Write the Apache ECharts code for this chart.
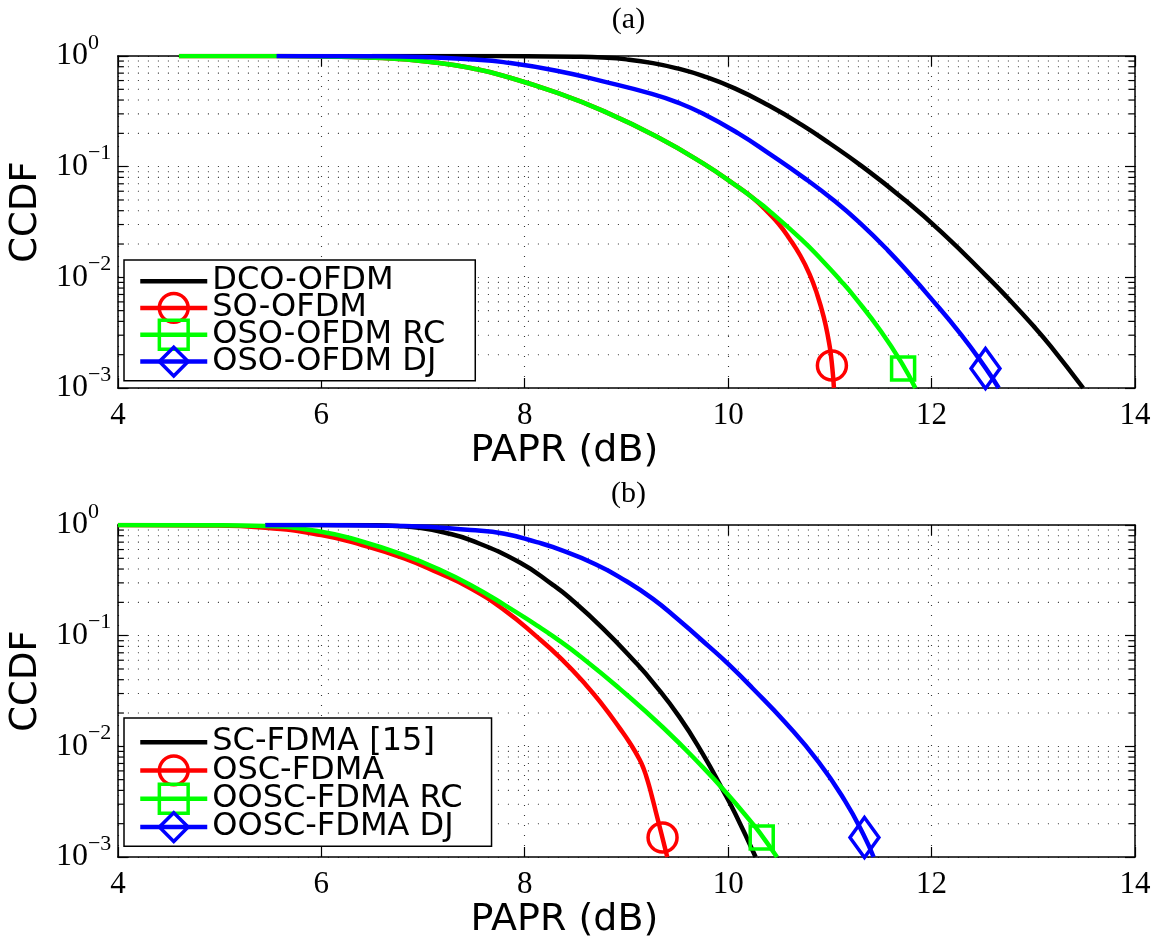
<!DOCTYPE html>
<html><head><meta charset="utf-8">
<script src="https://cdn.jsdelivr.net/npm/echarts@6/dist/echarts.min.js"></script>
<style>html,body{margin:0;padding:0;background:#fff}#c{width:1161px;height:941px}</style>
</head><body><div id="c"></div>
<script>
// ---------- data (a) ----------
const namesA = ['DCO-OFDM', 'SO-OFDM', 'OSO-OFDM RC', 'OSO-OFDM DJ'];
const dcoX = [6.5, 7.5, 8.0, 8.5, 8.77, 9.0, 9.26, 9.5, 9.75, 10.07, 10.4, 10.72, 11.0, 11.31, 11.7, 12.1, 12.55, 12.74, 13.0, 13.17, 13.49];
const dcoY = [1, 0.999, 0.997, 0.9855, 0.9674, 0.932, 0.862, 0.772, 0.661, 0.507, 0.357, 0.24, 0.162, 0.1016, 0.0533, 0.0255, 0.01005, 0.00664, 0.00365, 0.00239, 0.001];
const soX = [4.6, 5.5, 6.0, 6.6, 7.14, 7.5, 7.78, 8.3, 8.77, 9.3, 9.75, 10.1, 10.25, 10.4, 10.5, 10.6, 10.71, 10.8, 10.87, 10.94, 10.99, 11.01, 11.03, 11.04];
const soY = [1, 0.998, 0.99, 0.96, 0.87, 0.768, 0.667, 0.471, 0.319, 0.1866, 0.1076, 0.0653, 0.0516, 0.038, 0.0302, 0.0226, 0.01567, 0.0107, 0.00724, 0.00437, 0.00263, 0.002, 0.00132, 0.001];
const osoRcX = [4.6, 5.5, 6.0, 6.6, 7.14, 7.5, 7.78, 8.3, 8.77, 9.3, 9.75, 10.1, 10.25, 10.4, 10.72, 10.92, 11.1, 11.25, 11.5, 11.71, 11.84];
const osoRcY = [1, 0.998, 0.99, 0.96, 0.87, 0.768, 0.667, 0.471, 0.319, 0.1866, 0.1076, 0.0653, 0.0516, 0.0403, 0.022, 0.01435, 0.00948, 0.00653, 0.00327, 0.00166, 0.001];
const osoDjX = [5.56, 6.5, 7.0, 7.5, 7.79, 8.3, 8.77, 9.25, 9.5, 9.75, 10.1, 10.4, 10.75, 11.05, 11.3, 11.57, 11.8, 11.96, 12.29, 12.53, 12.66];
const osoDjY = [1, 0.997, 0.98, 0.93, 0.88, 0.74, 0.59, 0.455, 0.381, 0.302, 0.2, 0.132, 0.0789, 0.0486, 0.0307, 0.01754, 0.01033, 0.00702, 0.00304, 0.00152, 0.001];
const markA = [[11.02, 0.0016], [11.72, 0.0015], [12.53, 0.0015]];

// ---------- data (b) ----------
const namesB = ['SC-FDMA [15]', 'OSC-FDMA', 'OOSC-FDMA RC', 'OOSC-FDMA DJ'];
const scX = [5.45, 6.0, 6.5, 6.75, 6.98, 7.2, 7.467, 7.956, 8.28, 8.44, 8.77, 9.1, 9.26, 9.52, 9.75, 9.94, 10.07, 10.27];
const scY = [1, 0.999, 0.995, 0.98, 0.94, 0.86, 0.73, 0.455, 0.286, 0.22, 0.116, 0.056, 0.0379, 0.01845, 0.00855, 0.00415, 0.00246, 0.001];
const oscX = [4.0, 4.86, 5.45, 6.0, 6.4, 6.815, 7.15, 7.467, 7.8, 8.118, 8.36, 8.604, 8.77, 8.933, 9.034, 9.129, 9.171, 9.21, 9.249, 9.288, 9.342, 9.401];
const oscY = [1, 0.99, 0.946, 0.81, 0.66, 0.5, 0.37, 0.268, 0.17, 0.098, 0.0617, 0.0357, 0.0233, 0.01462, 0.01072, 0.0076, 0.0062, 0.00482, 0.00357, 0.00258, 0.00165, 0.001];
const ooscRcX = [4.0, 4.86, 5.45, 6.0, 6.4, 6.815, 7.15, 7.467, 7.8, 8.118, 8.28, 8.57, 8.93, 9.36, 9.75, 9.98, 10.24, 10.31, 10.48];
const ooscRcY = [1, 0.995, 0.98, 0.87, 0.71, 0.535, 0.40, 0.287, 0.19, 0.124, 0.0986, 0.0626, 0.0334, 0.0148, 0.00648, 0.00382, 0.0020, 0.00166, 0.001];
const ooscDjX = [5.45, 6.0, 6.815, 7.467, 7.8, 8.118, 8.28, 8.70, 9.0, 9.26, 9.5, 9.81, 10.0, 10.24, 10.56, 10.89, 11.15, 11.33, 11.43];
const ooscDjY = [1, 0.998, 0.98, 0.90, 0.834, 0.70, 0.63, 0.44, 0.31, 0.215, 0.142, 0.08, 0.0555, 0.0335, 0.0165, 0.0072, 0.0032, 0.0016, 0.001];
const markB = [[9.355, 0.0015], [10.33, 0.0015], [11.34, 0.0015]];

// ---------- axes ----------
const xMin = 4, xMax = 14, xStep = 2;
const yMinorTicks = [0.002,0.003,0.004,0.005,0.006,0.007,0.008,0.009,
                     0.02,0.03,0.04,0.05,0.06,0.07,0.08,0.09,
                     0.2,0.3,0.4,0.5,0.6,0.7,0.8,0.9];
const titles = ['(a)', '(b)'];
const xName = 'PAPR (dB)';
const yName = 'CCDF';

const colors = ['#000000', '#ff0000', '#00ff00', '#0000ff'];
const symbols = ['none', 'circle', 'rect', 'diamond'];
const symSizes = [0, 29, 23, [29, 40]];

const grids = [{left:112, top:56, width:1023, height:332}, {left:112, top:525, width:1023, height:332}];

const dotted = {color:'#333', width:1.1, type:[1,9]};

function xAx(gi, pos) {
  const bottom = pos === 'bottom';
  return {
    type:'value', gridIndex:gi, position:pos, min:xMin, max:xMax, interval:xStep,
    axisLine:{show:true, onZero:false, lineStyle:{color:'#000', width:1.5}},
    axisTick:{show:true, inside:true, length:10, lineStyle:{color:'#000', width:1.2}},
    axisLabel:{show:bottom, margin:12, color:'#000', fontFamily:'Liberation Serif', fontSize:31},
    splitLine:{show:bottom, lineStyle:dotted},
    name: bottom ? xName : '', nameLocation:'middle', nameGap:44,
    nameTextStyle:{fontFamily:'DejaVu Sans', fontSize:38, color:'#000', padding:[0,124,0,0]}
  };
}
function yAx(gi, pos) {
  const left = pos === 'left';
  return {
    type:'log', logBase:10, gridIndex:gi, position:pos, min:0.001, max:1,
    axisLine:{show:true, onZero:false, lineStyle:{color:'#000', width:1.5}},
    axisTick:{show:true, inside:true, length:10, lineStyle:{color:'#000', width:1.2}},
    axisLabel:{
      show:left, margin:62, align:'left', color:'#000',
      formatter: v => { const e = Math.round(Math.log10(v)); return '{b|10}{s|' + (e === 0 ? '0' : '\u2212' + (-e)) + '}'; },
      rich:{
        b:{fontFamily:'Liberation Serif', fontSize:32, lineHeight:50, color:'#000'},
        s:{fontFamily:'Liberation Serif', fontSize:22, lineHeight:22, padding:[0,0,27,0], verticalAlign:'bottom', color:'#000'}
      }
    },
    splitLine:{show:left, lineStyle:dotted},
    name: left ? yName : '', nameLocation:'middle', nameGap:66,
    nameTextStyle:{fontFamily:'DejaVu Sans', fontSize:37, color:'#000', padding:[0,0,0,20]}
  };
}

function gridSeries(xi, yi) {
  return {
    type:'custom', xAxisIndex:xi, yAxisIndex:yi, silent:true, z:1, clip:false,
    data: yMinorTicks.map(v => [xMin, v]),
    encode:{x:0, y:1},
    renderItem: (params, api) => {
      const v = api.value(1);
      const a = api.coord([xMin, v]);
      const b = api.coord([xMax, v]);
      return {type:'group', children:[
        {type:'line', shape:{x1:a[0], y1:a[1], x2:b[0], y2:b[1]}, style:{stroke:'#333', lineWidth:1.1, lineDash:[1,9]}},
        {type:'line', shape:{x1:a[0], y1:a[1], x2:a[0]+6, y2:a[1]}, style:{stroke:'#000', lineWidth:1.2}},
        {type:'line', shape:{x1:b[0]-6, y1:b[1], x2:b[0], y2:b[1]}, style:{stroke:'#000', lineWidth:1.2}}
      ]};
    }
  };
}

function lineSeries(name, xs, ys, k, xi, yi) {
  const c = colors[k];
  return {
    type:'line', name, xAxisIndex:xi, yAxisIndex:yi,
    data: xs.map((x, i) => [x, ys[i]]),
    showSymbol:false, symbol:symbols[k], symbolSize:symSizes[k],
    smooth:0.5, z:3,
    lineStyle:{color:c, width:4.5},
    itemStyle:{color:'rgba(255,255,255,0)', borderColor: k === 0 ? 'rgba(0,0,0,0)' : c, borderWidth:3.5, opacity:1},
    emphasis:{disabled:true}, animation:false
  };
}
function markSeries(pt, k, xi, yi) {
  return {
    type:'scatter', name:'mk' + xi + k, xAxisIndex:xi, yAxisIndex:yi, data:[pt],
    symbol:symbols[k], symbolSize:symSizes[k], z:4, silent:true,
    itemStyle:{color:'rgba(255,255,255,0)', borderColor:colors[k], borderWidth:3.5, opacity:1},
    emphasis:{disabled:true}, animation:false
  };
}

const series = [
  gridSeries(0, 0),
  lineSeries(namesA[0], dcoX, dcoY, 0, 0, 0),
  lineSeries(namesA[1], soX, soY, 1, 0, 0),
  lineSeries(namesA[2], osoRcX, osoRcY, 2, 0, 0),
  lineSeries(namesA[3], osoDjX, osoDjY, 3, 0, 0),
  markSeries(markA[0], 1, 0, 0), markSeries(markA[1], 2, 0, 0), markSeries(markA[2], 3, 0, 0),
  gridSeries(2, 2),
  lineSeries(namesB[0], scX, scY, 0, 2, 2),
  lineSeries(namesB[1], oscX, oscY, 1, 2, 2),
  lineSeries(namesB[2], ooscRcX, ooscRcY, 2, 2, 2),
  lineSeries(namesB[3], ooscDjX, ooscDjY, 3, 2, 2),
  markSeries(markB[0], 1, 2, 2), markSeries(markB[1], 2, 2, 2), markSeries(markB[2], 3, 2, 2)
];

const legendBase = {
  orient:'vertical', left:124, selectedMode:false,
  backgroundColor:'#fff', borderColor:'#000', borderWidth:1.5, borderRadius:0,
  itemWidth:67, itemHeight:36,
  itemStyle:{borderWidth:3.5},
  lineStyle:{width:4.5},
  textStyle:{fontFamily:'DejaVu Sans', fontSize:32, color:'#000', lineHeight:28}
};

const option = {
  animation:false,
  backgroundColor:'#fff',
  title: titles.map((t, i) => ({
    text:t, left:623.5, textAlign:'center', top: i === 0 ? 0 : 474,
    textStyle:{fontFamily:'Liberation Serif', fontSize:30, fontWeight:'normal', color:'#000'}
  })),
  grid: grids,
  xAxis: [xAx(0,'bottom'), xAx(0,'top'), xAx(1,'bottom'), xAx(1,'top')],
  yAxis: [yAx(0,'left'), yAx(0,'right'), yAx(1,'left'), yAx(1,'right')],
  legend: [
    Object.assign({}, legendBase, {top:260, data:namesA, itemGap:-5.5, padding:[5,30,3,14]}),
    Object.assign({}, legendBase, {top:718, data:namesB, itemGap:-4, padding:[8,29,3,14]})
  ],
  series
};
const chart = echarts.init(document.getElementById('c'), null, {renderer:'canvas'});
chart.setOption(option);
</script>
</body></html>
